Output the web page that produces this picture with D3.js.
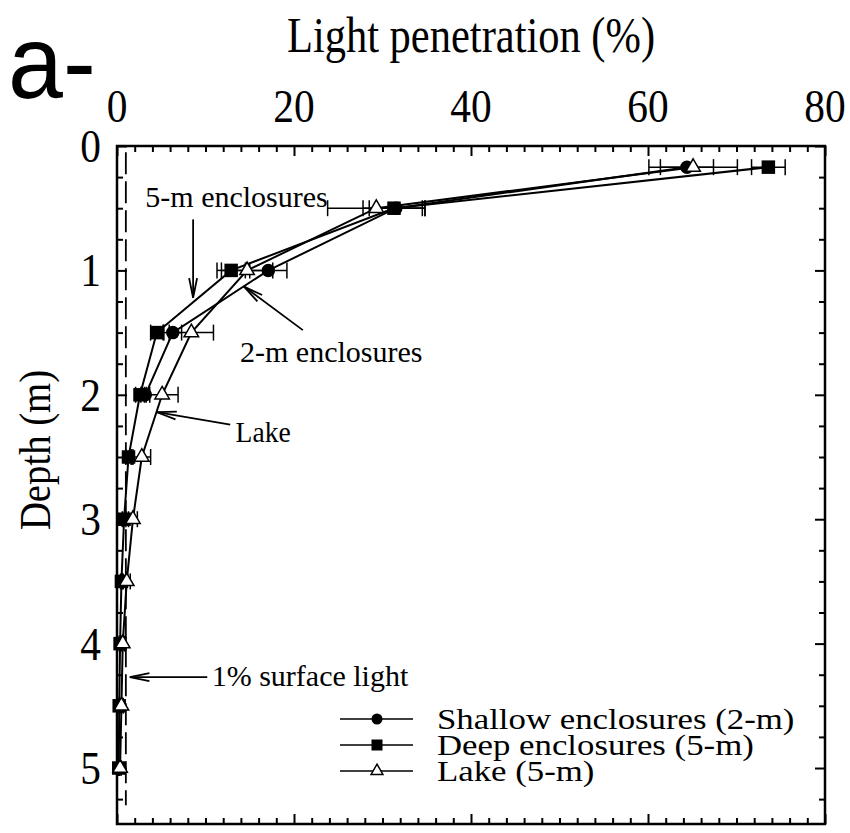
<!DOCTYPE html>
<html><head><meta charset="utf-8">
<script src="https://cdn.jsdelivr.net/npm/d3@7"></script>
<style>body{margin:0;background:#fff}svg{display:block}text{font-family:"Liberation Serif","Times New Roman",serif;fill:#000}</style>
</head><body><svg id="c" width="850" height="833"></svg>
<script>
// Data
const depths = [0.17, 0.5, 1, 1.5, 2, 2.5, 3, 3.5, 4, 4.5, 5];
const shallowVals = [64.4, 31.5, 17.1, 6.3, 3.2];
const shallowErr  = [3.0, 3.0, 2.1, 1.0, 0.5];
const deepVals = [73.6, 31.3, 12.9, 4.5, 2.6, 1.3, 0.8, 0.5, 0.35, 0.25, 0.2];
const deepErr  = [1.9, 3.5, 1.6, 0.7, 0.5, 0.3, 0.2, 0.1, 0.1, 0.05, 0.05];
const lakeVals = [65.1, 29.3, 14.7, 8.4, 5.1, 2.8, 1.8, 1.1, 0.65, 0.5, 0.35];
const lakeErr  = [5.0, 5.5, 2.9, 2.5, 1.8, 1.0, 0.5, 0.4, 0.2, 0.2, 0.1];
const xTicks = [0, 20, 40, 60, 80];
const yTicks = [0, 1, 2, 3, 4, 5];
const seriesNames = ["Shallow enclosures (2-m)", "Deep enclosures (5-m)", "Lake (5-m)"];
const surfaceLight = 1;

const svg = d3.select("#c");
const x = d3.scaleLinear().domain([0, 80]).range([117, 825]);
const y = d3.scaleLinear().domain([0, 5.45]).range([146, 824]);

const series = [
  {name: seriesNames[0], vals: shallowVals, err: shallowErr, sym: "circle"},
  {name: seriesNames[1], vals: deepVals, err: deepErr, sym: "square"},
  {name: seriesNames[2], vals: lakeVals, err: lakeErr, sym: "triangle"}
];

function txt(px, py, s, size, sx, anchor, rot) {
  return svg.append("text")
    .attr("transform", `translate(${px},${py})${rot ? ` rotate(${rot})` : ""} scale(${sx},1)`)
    .attr("text-anchor", anchor || "start").attr("font-size", size).text(s);
}

// dashed 1% line
svg.append("line").attr("x1", x(surfaceLight)).attr("x2", x(surfaceLight))
  .attr("y1", y(0.05)).attr("y2", y(5.3)).attr("stroke", "#000").attr("stroke-width", 1.8)
  .attr("stroke-dasharray", "22,7");

// axes with inward ticks
const gTop = svg.append("g").attr("transform", `translate(0,${y(0)})`);
gTop.call(d3.axisTop(x).tickValues(d3.range(0, 81, 2)).tickSize(-6).tickFormat(""));
gTop.call(g => g.selectAll(".tick line").filter(d => d % 20 === 0).attr("y2", 10));
const gBot = svg.append("g").attr("transform", `translate(0,${y(5.45)})`);
gBot.call(d3.axisBottom(x).tickValues(d3.range(0, 81, 2)).tickSize(-6).tickFormat(""));
gBot.call(g => g.selectAll(".tick line").filter(d => d % 20 === 0).attr("y2", -10));
const gLeft = svg.append("g").attr("transform", `translate(${x(0)},0)`);
gLeft.call(d3.axisLeft(y).tickValues(d3.range(0, 5.3, 0.25)).tickSize(-6).tickFormat(""));
gLeft.call(g => g.selectAll(".tick line").filter(d => Math.abs(d - Math.round(d)) < 1e-6).attr("x2", 10));
const gRight = svg.append("g").attr("transform", `translate(${x(80)},0)`);
gRight.call(d3.axisRight(y).tickValues(d3.range(0, 5.3, 0.25)).tickSize(-6).tickFormat(""));
gRight.call(g => g.selectAll(".tick line").filter(d => Math.abs(d - Math.round(d)) < 1e-6).attr("x2", -10));
svg.selectAll(".domain").remove();
svg.selectAll(".tick line").attr("stroke", "#000").attr("stroke-width", 2);
svg.append("rect").attr("x", x(0)).attr("y", y(0)).attr("width", x(80) - x(0)).attr("height", y(5.45) - y(0))
  .attr("fill", "none").attr("stroke", "#000").attr("stroke-width", 2.5);

// tick labels
xTicks.forEach(d => txt(x(d), 122, d, 46, 0.9, "middle"));
yTicks.forEach(d => txt(101, y(d) + 16, d, 46, 0.9, "end"));

// titles
txt(471, 52, "Light penetration (%)", 50, 0.85, "middle");
txt(50, 450, "Depth (m)", 44, 0.88, "middle", -90);
svg.append("text").attr("transform", "translate(8,98) scale(1.05,1.1)").attr("font-size", 94)
  .style("font-family", "'Liberation Sans',Arial,sans-serif").text("a-");

// lines
const line = d3.line().x(d => x(d.v)).y(d => y(d.d));
series.forEach(s => {
  s.pts = s.vals.map((v, i) => ({v, d: depths[i], e: s.err[i]}));
  svg.append("path").datum(s.pts).attr("d", line).attr("fill", "none").attr("stroke", "#000").attr("stroke-width", 2);
});
// error bars
series.forEach(s => {
  const g = svg.append("g").attr("stroke", "#000").attr("stroke-width", 1.5);
  s.pts.forEach(p => {
    g.append("line").attr("x1", x(p.v - p.e)).attr("x2", x(p.v + p.e)).attr("y1", y(p.d)).attr("y2", y(p.d));
    [p.v - p.e, p.v + p.e].forEach(ev => g.append("line").attr("x1", x(ev)).attr("x2", x(ev))
      .attr("y1", y(p.d) - 8).attr("y2", y(p.d) + 8));
  });
});
// markers
function marker(g, sym, cx, cy, size) {
  if (sym === "circle") g.append("circle").attr("cx", cx).attr("cy", cy).attr("r", size / 2).attr("fill", "#000");
  else if (sym === "square") g.append("rect").attr("x", cx - size / 2).attr("y", cy - size / 2).attr("width", size).attr("height", size).attr("fill", "#000");
  else g.append("path").attr("d", d3.symbol(d3.symbolTriangle, size * size * 0.5)()).attr("transform", `translate(${cx},${cy})`)
    .attr("fill", "#fff").attr("stroke", "#000").attr("stroke-width", 1.5);
}
series.forEach(s => {
  const g = svg.append("g");
  s.pts.forEach(p => marker(g, s.sym, x(p.v), y(p.d), 13.5));
});

// annotations
function arrow(x1, y1, x2, y2) {
  const g = svg.append("g").attr("stroke", "#000").attr("stroke-width", 1.8).attr("fill", "none");
  const X1 = x(x1), Y1 = y(y1), X2 = x(x2), Y2 = y(y2);
  g.append("line").attr("x1", X1).attr("y1", Y1).attr("x2", X2).attr("y2", Y2);
  const a = Math.atan2(Y1 - Y2, X1 - X2), L = 20, w = 0.2;
  [a - w, a + w].forEach(b => g.append("line").attr("x1", X2).attr("y1", Y2)
    .attr("x2", X2 + L * Math.cos(b)).attr("y2", Y2 + L * Math.sin(b)));
}
const annFont = 30;
txt(x(3.2), y(0.49), "5-m enclosures", annFont, 1);
arrow(8.6, 0.59, 8.6, 1.22);
txt(x(13.9), y(1.74), "2-m enclosures", annFont, 1);
arrow(21.0, 1.48, 14.35, 1.13);
txt(x(13.4), y(2.38), "Lake", annFont, 0.92);
arrow(12.8, 2.24, 4.5, 2.14);
txt(x(10.7), y(4.34), "1% surface light", annFont, 1);
arrow(10.2, 4.27, 1.45, 4.27);

// legend
const leg = svg.append("g");
series.forEach((s, i) => {
  const ly = 719 + i * 26;
  leg.append("line").attr("x1", 340).attr("x2", 413).attr("y1", ly).attr("y2", ly).attr("stroke", "#000").attr("stroke-width", 1.5);
  marker(leg, s.sym, 377, ly, 11);
  txt(437, ly + 10, s.name, 29, 1.2);
});
</script></body></html>
